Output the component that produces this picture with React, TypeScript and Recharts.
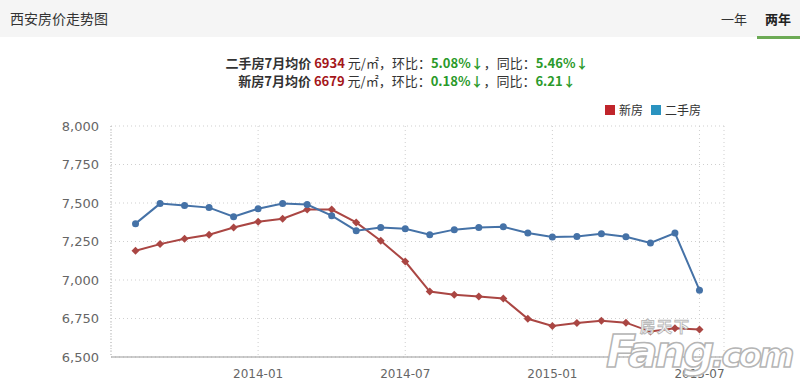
import React from "react";
import { LineChart, Line, XAxis, YAxis, CartesianGrid } from "recharts";

// 2013-08 .. 2015-07, one point per month
const months = [
  "2013-08", "2013-09", "2013-10", "2013-11", "2013-12", "2014-01",
  "2014-02", "2014-03", "2014-04", "2014-05", "2014-06", "2014-07",
  "2014-08", "2014-09", "2014-10", "2014-11", "2014-12", "2015-01",
  "2015-02", "2015-03", "2015-04", "2015-05", "2015-06", "2015-07",
];
const newHouse = [
  7190, 7233, 7268, 7294, 7341, 7379, 7398, 7457, 7457, 7374, 7255, 7120,
  6925, 6904, 6893, 6880, 6748, 6702, 6721, 6736, 6723, 6665, 6687, 6679,
];
const secondHand = [
  7366, 7496, 7483, 7470, 7411, 7463, 7496, 7490, 7418, 7320, 7341, 7333,
  7294, 7327, 7341, 7346, 7305, 7279, 7283, 7300, 7281, 7240, 7305, 6934,
];
const xTicks = [5, 11, 17, 23];
const yTicks = [6500, 6750, 7000, 7250, 7500, 7750, 8000];

const data = months.map((m, i) => ({ i, month: m, newHouse: newHouse[i], secondHand: secondHand[i] }));

const RED = "#AA4643";
const BLUE = "#4572A7";
const GREEN = "#2a9a2a";
const DARKRED = "#a4161a";

const Diamond = (props: any) => {
  const { cx, cy } = props;
  if (cx == null || cy == null) return null;
  const r = 4;
  return (
    <path
      d={`M${cx},${cy - r} L${cx + r},${cy} L${cx},${cy + r} L${cx - r},${cy} Z`}
      fill={RED}
    />
  );
};

export default function App() {
  const cjk = "'Microsoft YaHei', 'Noto Sans CJK SC', sans-serif";
  return (
    <div style={{ position: "relative", width: 800, height: 390, background: "#fff", overflow: "hidden", fontFamily: cjk }}>
      <style>{"body{margin:0}"}</style>
      {/* header bar */}
      <div style={{ position: "absolute", left: 0, top: 0, width: 800, height: 37, background: "#f5f5f5" }} />
      <div style={{ position: "absolute", left: 10, top: 8, fontSize: 14, color: "#333" }}>西安房价走势图</div>
      <div style={{ position: "absolute", left: 721, top: 9, fontSize: 13, color: "#333" }}>一年</div>
      <div style={{ position: "absolute", left: 765, top: 9, fontSize: 13, color: "#222", fontWeight: 700 }}>两年</div>
      <div style={{ position: "absolute", left: 757, top: 36, width: 43, height: 3, background: "#6caa55" }} />

      {/* subtitle */}
      <div style={{ position: "absolute", left: 0, top: 54, width: 814, textAlign: "center", fontSize: 13, color: "#333", lineHeight: "18px" }}>
        <div>
          <b>二手房7月均价 </b><b style={{ color: DARKRED }}>6934</b> 元/㎡，环比：<b style={{ color: GREEN }}>5.08%↓</b>，同比：<b style={{ color: GREEN }}>5.46%↓</b>
        </div>
        <div>
          <b>新房7月均价 </b><b style={{ color: DARKRED }}>6679</b> 元/㎡，环比：<b style={{ color: GREEN }}>0.18%↓</b>，同比：<b style={{ color: GREEN }}>6.21↓</b>
        </div>
      </div>

      <div style={{ position: "absolute", left: 0, top: 0 }}>
        <LineChart width={800} height={390} data={data} margin={{ top: 126, right: 76, bottom: 3, left: 0 }}>
          <CartesianGrid stroke="#cfcfcf" strokeDasharray="1 3" />
          <XAxis
            dataKey="i"
            type="number"
            domain={[-1, 24]}
            ticks={xTicks}
            tickFormatter={(v: number) => months[v]}
            tickLine={false}
            axisLine={{ stroke: "#999" }}
            tick={{ fill: "#666", fontSize: 12, fontFamily: "'DejaVu Sans', sans-serif" }}
            tickMargin={6}
          />
          <YAxis
            width={111}
            domain={[6500, 8000]}
            ticks={yTicks}
            tickFormatter={(v: number) => v.toLocaleString("en-US")}
            tickLine={false}
            axisLine={{ stroke: "#bbb", strokeDasharray: "1 2" }}
            tick={{ fill: "#666", fontSize: 13, fontFamily: "'DejaVu Sans', sans-serif" }}
            tickMargin={6}
          />
          <Line
            type="linear"
            dataKey="newHouse"
            name="新房"
            stroke={RED}
            strokeWidth={2}
            dot={<Diamond />}
            activeDot={false}
            isAnimationActive={false}
          />
          <Line
            type="linear"
            dataKey="secondHand"
            name="二手房"
            stroke={BLUE}
            strokeWidth={2}
            dot={{ r: 3.5, fill: BLUE, stroke: BLUE, strokeWidth: 0 }}
            activeDot={false}
            isAnimationActive={false}
          />
        </LineChart>
      </div>

      {/* legend */}
      <div style={{ position: "absolute", left: 605, top: 101, display: "flex", alignItems: "center", fontSize: 12, color: "#333" }}>
        <span style={{ width: 10, height: 10, background: "#c0252b", display: "inline-block", marginRight: 4 }} />
        <span style={{ marginRight: 8 }}>新房</span>
        <span style={{ width: 10, height: 10, background: "#2a93c0", display: "inline-block", marginRight: 4 }} />
        <span>二手房</span>
      </div>

      {/* watermark */}
      <div style={{ position: "absolute", left: 640, top: 318, fontSize: 15, fontWeight: 700, color: "#fff", WebkitTextStroke: "1px #bbb", letterSpacing: 2, lineHeight: "16px", whiteSpace: "nowrap" }}>房天下</div>
      <div style={{ position: "absolute", left: 606, top: 326, width: 190, whiteSpace: "nowrap", fontSize: 44, fontWeight: 700, fontStyle: "italic", color: "#fff", fontFamily: "'DejaVu Sans', sans-serif", WebkitTextStroke: "1.5px #b5b5b5", letterSpacing: -3, lineHeight: "52px" }}>
        Fang<span style={{ fontSize: 34 }}>.com</span>
      </div>
    </div>
  );
}
